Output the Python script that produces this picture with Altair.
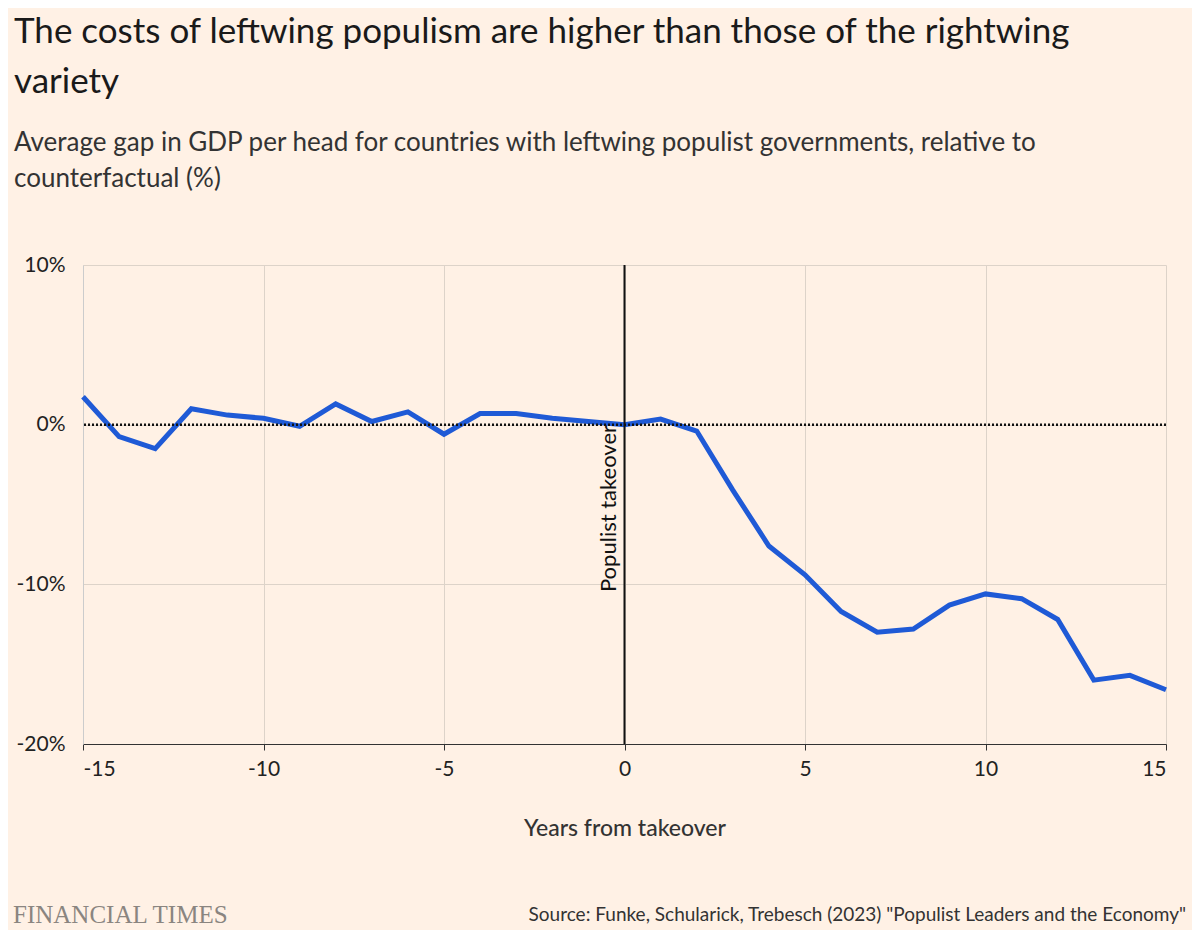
import altair as alt
import pandas as pd

years = list(range(-15, 16))
gap = [1.75, -0.75, -1.5, 1.0, 0.6, 0.4, -0.1, 1.3, 0.2, 0.8, -0.6, 0.7, 0.7, 0.4, 0.2,
       0.0, 0.35, -0.4, -4.1, -7.6, -9.4, -11.7, -13.0, -12.8, -11.3, -10.6, -10.9, -12.2,
       -16.0, -15.7, -16.6]

df = pd.DataFrame({"year": years, "gap": gap})
font = "Lato"

base = alt.Chart(df)

line = base.mark_line(color="#1f5ad6", strokeWidth=5).encode(
    x=alt.X("year:Q", title="Years from takeover", scale=alt.Scale(domain=[-15, 15], nice=False),
            axis=alt.Axis(values=[-15, -10, -5, 0, 5, 10, 15], labelExpr="'' + datum.value",
                          labelFontSize=21, titleFontSize=23,
                          titleFontWeight=500, titlePadding=38, labelPadding=8, tickSize=6,
                          tickColor="#333", domainColor="#333", labelColor="#222", titleColor="#333")),
    y=alt.Y("gap:Q", title=None, scale=alt.Scale(domain=[-20, 10], nice=False),
            axis=alt.Axis(values=[-20, -10, 0, 10], labelExpr="datum.value + '%'", labelFontSize=21,
                          labelColor="#222", ticks=False, labelPadding=18, domainColor="#ccc")),
)

zero = alt.Chart(pd.DataFrame({"y": [0]})).mark_rule(color="#111", strokeWidth=2.5, strokeDash=[2, 2]).encode(y="y:Q")
vline = alt.Chart(pd.DataFrame({"x": [0]})).mark_rule(color="#111", strokeWidth=2).encode(x="x:Q")
label = alt.Chart(pd.DataFrame({"x": [0], "y": [-5.25], "t": ["Populist takeover"]})).mark_text(
    angle=270, baseline="bottom", align="center", dy=-4, fontSize=22, font=font, color="#111"
).encode(x="x:Q", y="y:Q", text="t:N")

ft = alt.Chart(pd.DataFrame({"t": ["FINANCIAL TIMES"]})).mark_text(
    align="left", baseline="middle", font="Liberation Serif", fontSize=25, color="#8a8580"
).encode(x=alt.value(-70), y=alt.value(650), text="t:N")
src = alt.Chart(pd.DataFrame({"t": ['Source: Funke, Schularick, Trebesch (2023) "Populist Leaders and the Economy"']})).mark_text(
    align="right", baseline="middle", font=font, fontSize=19, color="#333"
).encode(x=alt.value(1103), y=alt.value(650), text="t:N")

chart = alt.layer(line, zero, vline, label, ft, src).properties(
    width=1083, height=479,
    background="#fff1e5",
    padding={"left": 75, "top": 257, "right": 26, "bottom": 186},
    autosize=alt.AutoSizeParams(type="none"),
    title=alt.TitleParams(
        text=["The costs of leftwing populism are higher than those of the rightwing", "variety"],
        subtitle=["Average gap in GDP per head for countries with leftwing populist governments, relative to",
                  "counterfactual (%)"],
        anchor="start", frame="group", dx=-69, offset=62, fontSize=35, fontWeight="normal",
        lineHeight=50, font=font, color="#1a1a1a", subtitleFont=font, subtitleFontSize=26,
        subtitleLineHeight=36, subtitleColor="#333", subtitlePadding=30,
    ),
).configure_view(stroke=None).configure_axis(
    gridColor="#ddd3c9", labelFont=font, titleFont=font
)

chart.save("out.html", embed_options={"renderer": "svg", "actions": False})
